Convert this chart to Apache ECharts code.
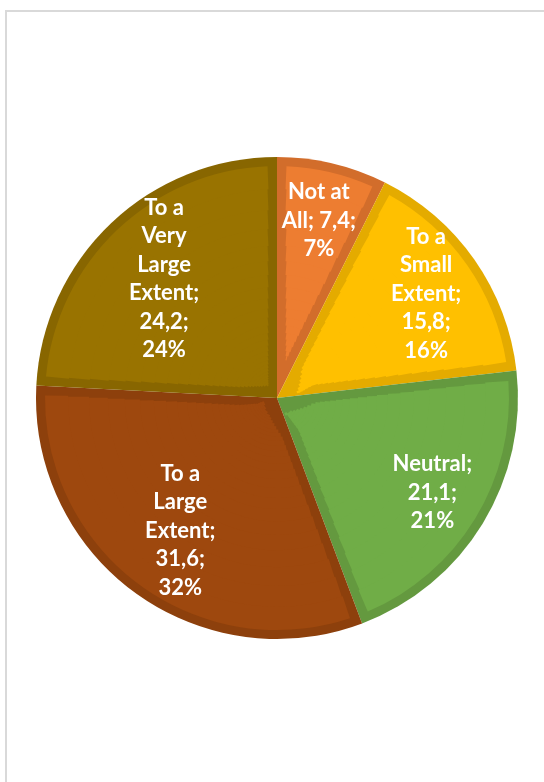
<!DOCTYPE html>
<html>
<head>
<meta charset="utf-8">
<script src="https://cdn.jsdelivr.net/npm/echarts@6/dist/echarts.min.js"></script>
<style>
  html, body { margin: 0; padding: 0; background: #fff; }
  #chart { width: 544px; height: 782px; }
</style>
</head>
<body>
<div id="chart"></div>
<script>
// Survey answers, clockwise from 12 o'clock
const categories = ['Not at All', 'To a Small Extent', 'Neutral', 'To a Large Extent', 'To a Very Large Extent'];
const values = [7.4, 15.8, 21.1, 31.6, 24.2];

// How each category name wraps inside its slice
const nameLines = [['Not at', 'All'], ['To a', 'Small', 'Extent'], ['Neutral'], ['To a', 'Large', 'Extent'], ['To a', 'Very', 'Large', 'Extent']];
const valueOnNameLine = [true, false, false, false, false];

const fillColors = ['#ED7D31', '#FFC000', '#70AD47', '#9E480E', '#997300'];
const edgeColors = ['#D26D2B', '#E4AB00', '#64993F', '#8D400C', '#886600'];

const CX = 277, CY = 398, R = 241, EDGE = 9;

function labelText(p) {
  const i = p.dataIndex;
  const lines = nameLines[i].slice();
  const v = String(p.value).replace('.', ',');
  const last = lines.pop();
  if (valueOnNameLine[i]) {
    lines.push(last + '; ' + v + ';');
  } else {
    lines.push(last + ';');
    lines.push(v + ';');
  }
  lines.push(Math.round(p.percent) + '%');
  return lines.join('\n');
}

function pieData(colors, labelFor) {
  return categories.map((name, i) => ({
    name: name,
    value: values[i],
    itemStyle: { color: colors ? colors[i] : 'rgba(0,0,0,0)' },
    label: { show: labelFor ? labelFor(i) : false }
  }));
}

const labelStyle = {
  position: 'inside',
  formatter: labelText,
  color: '#ffffff',
  fontFamily: 'Lato, "Open Sans", sans-serif',
  fontWeight: 'bold',
  fontSize: 22,
  lineHeight: 28.5,
  align: 'center'
};

const common = {
  type: 'pie',
  center: [CX, CY],
  startAngle: 90,
  clockwise: true,
  silent: true,
  animation: false,
  avoidLabelOverlap: false,
  percentPrecision: 0,
  labelLine: { show: false },
  emphasis: { disabled: true }
};

// Darker outline: the full pie in the edge colours
const series = [
  Object.assign({}, common, {
    name: 'edge',
    radius: [0, R],
    label: { show: false },
    data: pieData(edgeColors, null)
  })
];

// Lighter face of each slice, inset by EDGE px on every side. Pie gaps are
// angular, so the face is built from thin concentric rings whose pad angle
// keeps the gap close to 2*EDGE px wide at that ring's radius.
const RING_COUNT = 32;
const rIn = 8, rOut = R - EDGE;
const ratio = Math.pow(rOut / rIn, 1 / RING_COUNT);
for (let k = 0; k < RING_COUNT; k++) {
  const r1 = rIn * Math.pow(ratio, k);
  const r2 = rIn * Math.pow(ratio, k + 1);
  const rMid = (r1 + r2) / 2;
  const padDeg = Math.min(179, (2 * EDGE / rMid) * 180 / Math.PI);
  series.push(Object.assign({}, common, {
    name: 'face-' + k,
    radius: [r1, k === RING_COUNT - 1 ? r2 : r2 + 1.2],
    padAngle: padDeg,
    label: { show: false },
    data: pieData(fillColors, null)
  }));
}

// Slice labels (two label radii: the narrower slices carry theirs further out)
series.push(Object.assign({}, common, {
  name: 'labels-outer',
  radius: [117, R],
  label: labelStyle,
  data: pieData(null, i => i <= 2)
}));
series.push(Object.assign({}, common, {
  name: 'labels-inner',
  radius: [81, R],
  label: labelStyle,
  data: pieData(null, i => i >= 3)
}));

const chart = echarts.init(document.getElementById('chart'), null, { renderer: 'canvas' });
chart.setOption({
  backgroundColor: '#ffffff',
  graphic: [{
    type: 'rect',
    shape: { x: 6, y: 11, width: 620, height: 820 },
    style: { fill: 'none', stroke: '#d9d9d9', lineWidth: 2 },
    silent: true
  }],
  series: series
});
</script>
</body>
</html>
